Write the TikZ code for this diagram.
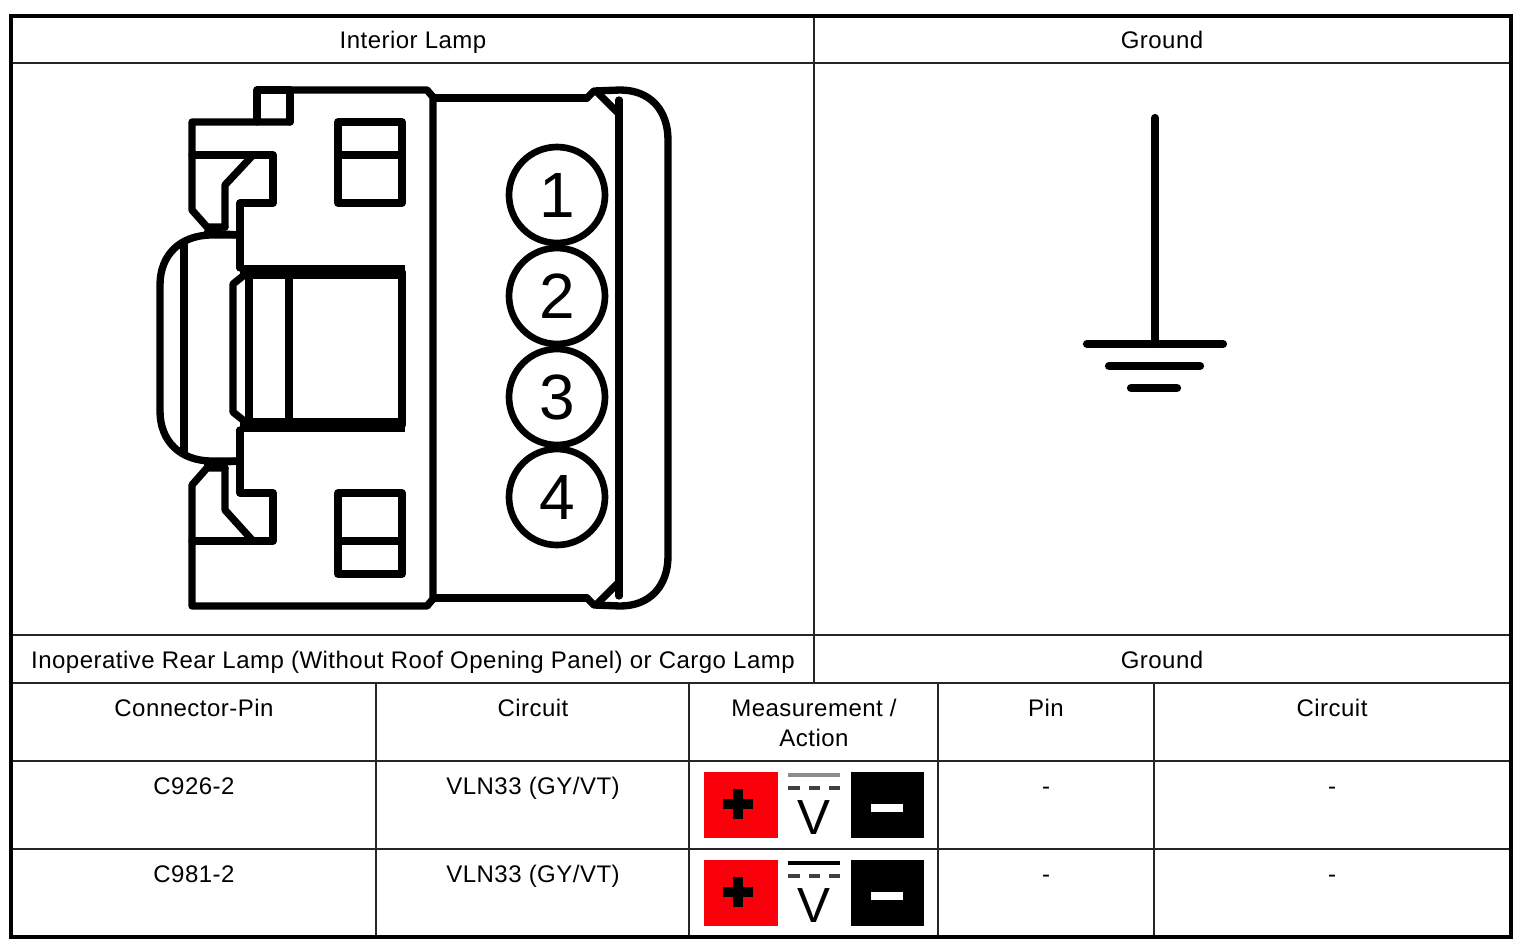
\documentclass[tikz,border=0pt]{standalone}
\usepackage{fontspec}
\setmainfont{Liberation Sans}
\newfontfamily\cellfont[LetterSpace=2]{Liberation Sans}
\tikzset{
  gridline/.style={line width=1pt,black!85},
  outline/.style={line width=5.5pt,line join=round,line cap=round},
  heavy/.style={line width=10.5pt,line cap=butt},
  pincircle/.style={circle,draw,line width=5pt,minimum size=72pt,inner sep=0pt,font=\fontsize{48}{48}\selectfont},
  celltext/.style={font=\cellfont\fontsize{18}{18}\selectfont,inner sep=0pt,anchor=base,yshift=-6.5pt},
  groundbar/.style={line width=6.2pt,line cap=round},
  redbox/.style={fill={rgb,255:red,250;green,0;blue,10},inner sep=0pt,minimum width=55.5pt,minimum height=50pt},
  blackbox/.style={fill=black,inner sep=0pt,minimum width=55pt,minimum height=50pt},
}
\begin{document}
\begin{tikzpicture}[x=0.75pt,y=0.75pt,yscale=-1,xscale=1]
\useasboundingbox (0,0) rectangle (1526,950);
%Grid
\draw [gridline] (12,63) -- (1511,63);
\draw [gridline] (12,635) -- (1511,635);
\draw [gridline] (12,683) -- (1511,683);
\draw [gridline] (12,761) -- (1511,761);
\draw [gridline] (12,849) -- (1511,849);
\draw [gridline] (814,16) -- (814,683);
\foreach \colx in {376,689,938,1154}
  \draw [gridline] (\colx,683) -- (\colx,937);
\draw [line width=3.2pt] (11,16) rectangle (1511,937);
%Headers
\node [celltext] (lamphead) at (413,40) {Interior Lamp};
\node [celltext] (groundhead) at (1162,40) {Ground};
\node [celltext] (lamptitle) at (413,660) {Inoperative Rear Lamp (Without Roof Opening Panel) or Cargo Lamp};
\node [celltext] (groundtitle) at (1162,660) {Ground};
\node [celltext] (pinhead) at (194,708) {Connector-Pin};
\node [celltext] (circuithead) at (533,708) {Circuit};
\node [celltext] (measurehead) at (814,708) {Measurement /};
\node [celltext] (actionhead) at (814,738) {Action};
\node [celltext] (gpinhead) at (1046,708) {Pin};
\node [celltext] (gcircuithead) at (1332,708) {Circuit};
%Rows
\node [celltext] (pinone) at (194,786) {C926-2};
\node [celltext] (circuitone) at (533,786) {VLN33 (GY/VT)};
\node [celltext] (gpinone) at (1046,786) {-};
\node [celltext] (gcircuitone) at (1332,786) {-};
\node [celltext] (pintwo) at (194,874) {C981-2};
\node [celltext] (circuittwo) at (533,874) {VLN33 (GY/VT)};
\node [celltext] (gpintwo) at (1046,874) {-};
\node [celltext] (gcircuittwo) at (1332,874) {-};
%Meter symbols
\foreach \rowy/\rowname/\rowtone in {0/one/45,88/two/100} {
  \node [redbox] (plus\rowname) at (741,805+\rowy) {};
  \node [blackbox] (minus\rowname) at (887.5,805+\rowy) {};
  \draw [line width=8pt] (723,804+\rowy) -- (753,804+\rowy);
  \draw [line width=8pt] (738,789+\rowy) -- (738,819+\rowy);
  \draw [white,line width=6pt] (871,808+\rowy) -- (903,808+\rowy);
  \draw [line width=3pt,black!\rowtone] (788,775+\rowy) -- (840,775+\rowy);
  \draw [line width=3pt,black!75] (788,788+\rowy) -- (800,788+\rowy) (809,788+\rowy) -- (820,788+\rowy) (829,788+\rowy) -- (840,788+\rowy);
  \node [inner sep=0pt,font=\fontsize{37}{37}\selectfont] (volt\rowname) at (814,818+\rowy) {V};
}
%Ground symbol
\draw [groundbar] (1155,118) -- (1155,344);
\draw [groundbar] (1087,344) -- (1223,344);
\draw [groundbar] (1109,366) -- (1200,366);
\draw [groundbar] (1131,388) -- (1177,388);
%Connector body
\draw [outline] (290,122) -- (290,90) -- (257,90) -- (257,122);
\draw [outline] (290,90) -- (427,90) -- (433,97) -- (433,599) -- (427,606) -- (192,606) -- (192,485) -- (207,468) -- (225,468);
\draw [outline] (290,122) -- (192,122) -- (192,210) -- (207,227) -- (225,227);
%Upper latch
\draw [outline] (192,155) -- (273,155) -- (273,203) -- (240,203) -- (240,268);
\draw [outline] (253,155) -- (225,185) -- (225,227);
\draw [outline] (207,233) -- (240,235);
%Lower latch
\draw [outline] (192,541) -- (273,541) -- (273,493) -- (240,493) -- (240,430);
\draw [outline] (253,541) -- (225,510) -- (225,468);
\draw [outline] (207,463) -- (240,461);
%Side bump
\draw [outline] (240,235) -- (212,235) .. controls (180,235) and (160,255) .. (160,285) -- (160,411) .. controls (160,441) and (180,461) .. (212,461) -- (240,461);
\draw [outline] (184,244) -- (184,452);
%Window
\draw [outline] (249,272) -- (249,425);
\draw [outline] (289,272) -- (289,425);
\draw [outline] (402,272) -- (402,425);
\draw [heavy] (240,272) -- (405,272);
\draw [heavy] (240,425) -- (405,425);
\draw [outline] (243,276) -- (233,284) -- (233,412) -- (243,420);
%Small squares
\draw [outline] (338,122) rectangle (402,203);
\draw [outline] (338,155) -- (402,155);
\draw [outline] (338,493) rectangle (402,574);
\draw [outline] (338,541) -- (402,541);
%Pin housing
\draw [outline] (435,98) -- (587,98);
\draw [outline] (435,598) -- (587,598);
\draw [outline] (619,100) -- (619,596);
\draw [outline] (587,98) -- (594,91) -- (620,90) .. controls (650,90) and (668,110) .. (668,140) -- (668,556) .. controls (668,586) and (650,606) .. (620,606) -- (594,605) -- (587,598);
\draw [outline] (597,92) -- (617,112);
\draw [outline] (597,604) -- (617,584);
%Pins
\node [pincircle] (pinA) at (557,195) {1};
\node [pincircle] (pinB) at (557,296) {2};
\node [pincircle] (pinC) at (557,397) {3};
\node [pincircle] (pinD) at (557,497) {4};
\end{tikzpicture}
\end{document}
